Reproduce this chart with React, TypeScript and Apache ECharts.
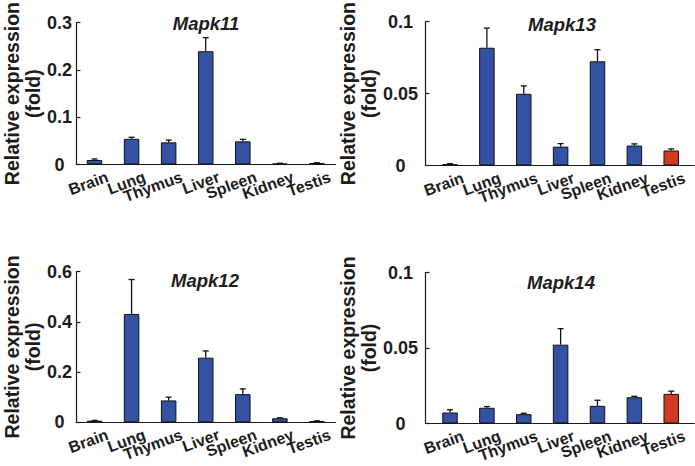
import React, { useEffect, useRef } from "react";
import * as echarts from "echarts";

const categories = ["Brain", "Lung", "Thymus", "Liver", "Spleen", "Kidney", "Testis"];
const yTicks11 = { max: 0.3, step: 0.1 };
const yTicks13 = { max: 0.1, step: 0.05 };
const yTicks12 = { max: 0.6, step: 0.2 };
const yTicks14 = { max: 0.1, step: 0.05 };

const mapk11 = [0.009, 0.051, 0.044, 0.225, 0.046, 0.002, 0.003];
const mapk11Err = [0.002, 0.003, 0.0045, 0.027, 0.004, 0.0005, 0.0005];
const mapk13 = [0.0009, 0.078, 0.0475, 0.0125, 0.069, 0.0132, 0.0099];
const mapk13Err = [0.0003, 0.013, 0.0052, 0.002, 0.0077, 0.0011, 0.0011];
const mapk12 = [0.0066, 0.431, 0.087, 0.257, 0.112, 0.016, 0.005];
const mapk12Err = [0.001, 0.137, 0.013, 0.027, 0.021, 0.002, 0.001];
const mapk14 = [0.0073, 0.0104, 0.0062, 0.0522, 0.0117, 0.0174, 0.0196];
const mapk14Err = [0.0018, 0.0008, 0.0006, 0.0106, 0.0037, 0.0006, 0.0018];

const BLUE = "#3452a4";
const RED = "#d03b22";
const INK = "#1c1c1c";
const AXIS = "#1a1a1a";
const FONT = "'Liberation Sans', Arial, Helvetica, sans-serif";

type Panel = {
  title: string;
  values: number[];
  errors: number[];
  ticks: { max: number; step: number };
  red: number[];
  axisLeft: number;
  axisRight: number;
  top: number;
  height: number;
  bandStart: number;
  bandWidth: number;
  titleX: number;
  titleY: number;
  labelMargin: number;
  nameGap: number;
};

const panels: Panel[] = [
  {
    title: "Mapk11", values: mapk11, errors: mapk11Err, ticks: yTicks11, red: [],
    axisLeft: 71, axisRight: 335.5, top: 13.5, height: 151,
    bandStart: 75.97, bandWidth: 37.07,
    titleX: 206, titleY: 14, labelMargin: 17, nameGap: 29,
  },
  {
    title: "Mapk13", values: mapk13, errors: mapk13Err, ticks: yTicks13, red: [6],
    axisLeft: 425.5, axisRight: 694.3, top: 14.5, height: 151,
    bandStart: 431.57, bandWidth: 36.87,
    titleX: 562, titleY: 15, labelMargin: 25, nameGap: 39,
  },
  {
    title: "Mapk12", values: mapk12, errors: mapk12Err, ticks: yTicks12, red: [],
    axisLeft: 71, axisRight: 335.5, top: 271.5, height: 150.8,
    bandStart: 75.97, bandWidth: 37.07,
    titleX: 205, titleY: 271, labelMargin: 17, nameGap: 29,
  },
  {
    title: "Mapk14", values: mapk14, errors: mapk14Err, ticks: yTicks14, red: [6],
    axisLeft: 425.5, axisRight: 694.3, top: 272.5, height: 151,
    bandStart: 431.57, bandWidth: 36.87,
    titleX: 561, titleY: 272.5, labelMargin: 25, nameGap: 39,
  },
];

function buildOption() {
  const grid: any[] = [];
  const xAxis: any[] = [];
  const yAxis: any[] = [];
  const series: any[] = [];
  const title: any[] = [];

  panels.forEach((p, i) => {
    const gA = 2 * i; // frame: y axis and x axis line
    const gB = 2 * i + 1; // bands: categories, bars, error bars
    grid.push({ left: p.axisLeft, top: p.top, width: p.axisRight - p.axisLeft, height: p.height });
    grid.push({ left: p.bandStart, top: p.top, width: p.bandWidth * categories.length, height: p.height });
    title.push({
      text: p.title,
      left: p.titleX,
      top: p.titleY,
      textAlign: "center",
      padding: 0,
      textStyle: { fontFamily: FONT, fontSize: 18.5, fontWeight: "bold", fontStyle: "italic", color: INK },
    });
    xAxis.push({
      type: "value",
      gridIndex: gA,
      min: 0,
      max: 1,
      splitLine: { show: false },
      axisLine: { show: true, lineStyle: { color: AXIS, width: 1.2 } },
      axisTick: { show: false },
      axisLabel: { show: false },
    });
    yAxis.push({
      type: "value",
      gridIndex: gA,
      min: 0,
      max: p.ticks.max,
      interval: p.ticks.step,
      name: "Relative expression\n(fold)",
      nameLocation: "middle",
      nameGap: p.nameGap,
      nameTextStyle: { fontFamily: FONT, fontSize: 19.5, fontWeight: "bold", color: INK, lineHeight: 21 },
      splitLine: { show: false },
      axisLine: { show: true, lineStyle: { color: AXIS, width: 1.2 } },
      axisTick: { show: true, inside: true, length: 4, lineStyle: { color: AXIS, width: 1.2 } },
      axisLabel: {
        align: "center",
        margin: p.labelMargin,
        fontFamily: FONT,
        fontSize: 18,
        fontWeight: "bold",
        color: INK,
        formatter: (v: number) => String(Number(v.toFixed(4))),
      },
    });
    xAxis.push({
      type: "category",
      gridIndex: gB,
      data: categories,
      splitLine: { show: false },
      axisLine: { show: false },
      axisTick: { show: false },
      axisLabel: {
        interval: 0,
        rotate: 20,
        margin: 16.5,
        padding: [0, -14, 0, 0],
        fontFamily: FONT,
        fontSize: 16,
        fontWeight: "bold",
        color: INK,
      },
    });
    yAxis.push({
      type: "value",
      gridIndex: gB,
      show: false,
      min: 0,
      max: p.ticks.max,
      interval: p.ticks.step,
      splitLine: { show: false },
    });
    series.push({
      type: "bar",
      xAxisIndex: gB,
      yAxisIndex: gB,
      barWidth: 15.5,
      data: p.values.map((v, k) => ({
        value: v,
        itemStyle: { color: p.red.includes(k) ? RED : BLUE, borderColor: "#111", borderWidth: 1 },
      })),
    });
    series.push({
      type: "custom",
      xAxisIndex: gB,
      yAxisIndex: gB,
      z: 5,
      data: p.values.map((v, k) => [k, v, p.errors[k]]),
      renderItem: (params: any, api: any) => {
        const x = api.value(0);
        const v = api.value(1);
        const e = api.value(2);
        const p0 = api.coord([x, v]);
        const p1 = api.coord([x, v + e]);
        const st = { stroke: "#111", lineWidth: 1.3 };
        return {
          type: "group",
          children: [
            { type: "line", shape: { x1: p0[0], y1: p0[1], x2: p1[0], y2: p1[1] }, style: st },
            { type: "line", shape: { x1: p1[0] - 3, y1: p1[1], x2: p1[0] + 3, y2: p1[1] }, style: st },
          ],
        };
      },
    });
  });

  return { animation: false, backgroundColor: "#ffffff", title, grid, xAxis, yAxis, series };
}

export default function App() {
  const ref = useRef<HTMLDivElement>(null);
  useEffect(() => {
    if (!ref.current) return;
    const chart = echarts.init(ref.current, undefined, { renderer: "svg" });
    chart.setOption(buildOption() as any);
    return () => chart.dispose();
  }, []);
  return <div ref={ref} style={{ position: "fixed", left: 0, top: 0, width: 695, height: 466, background: "#fff" }} />;
}
